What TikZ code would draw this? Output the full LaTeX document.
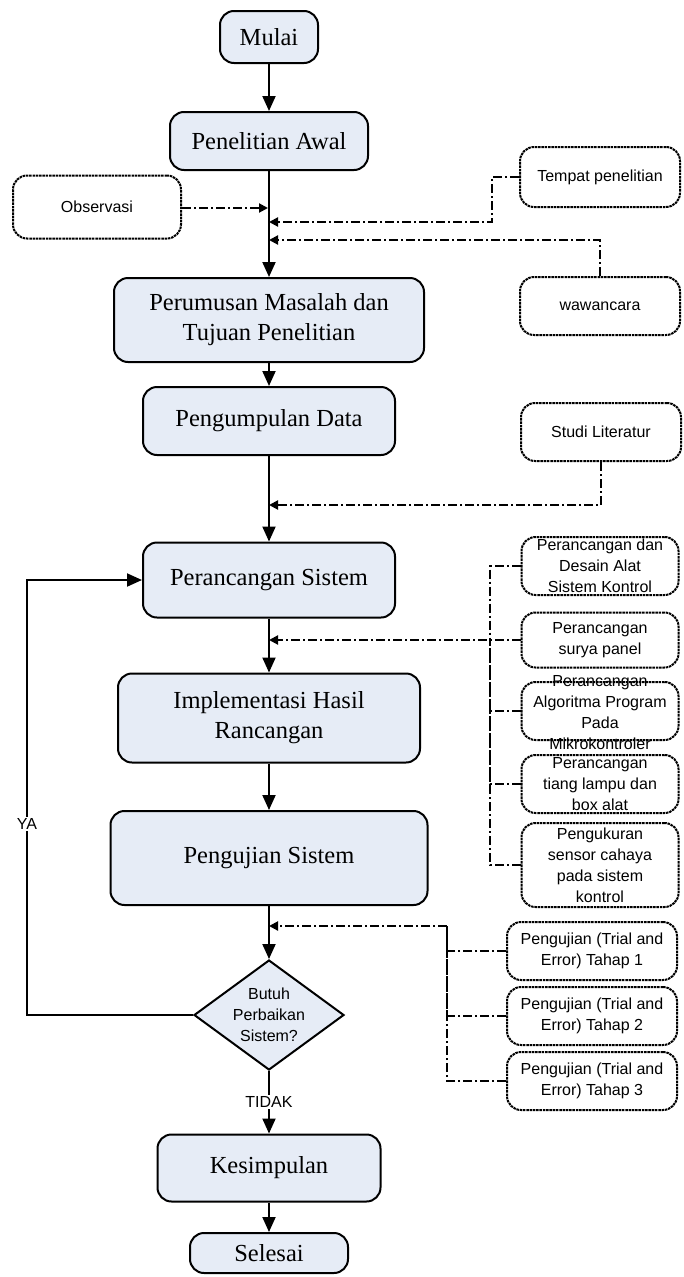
\documentclass[tikz,border=0pt]{standalone}
\usepackage{fontspec}
\setmainfont{Liberation Serif}
\setsansfont{Liberation Sans}
\usetikzlibrary{arrows.meta,shapes.geometric}
\definecolor{boxblue}{RGB}{230,236,246}
\begin{document}
\begin{tikzpicture}[x=1pt,y=-1pt,
  mainbox/.style={draw, line width=2pt, rounded corners=14pt, fill=boxblue, align=center, font=\fontsize{24.5}{30}\selectfont, inner sep=0pt},
  sidebox/.style={draw, line width=2pt, dash pattern=on 2.5pt off 0.8pt, rounded corners=14pt, align=center, font=\sffamily\fontsize{16}{21}\selectfont, inner sep=0pt, minimum width=157pt},
  sidetext/.style={align=center, font=\sffamily\fontsize{16}{21}\selectfont, inner sep=0pt},
  flow/.style={line width=2pt, -{Triangle[length=15pt,width=13pt]}},
  feed/.style={line width=2pt, dash pattern=on 9pt off 3pt on 2pt off 3pt, -{Triangle[length=9pt,width=9pt]}},
  feedline/.style={line width=2pt, dash pattern=on 9pt off 3pt on 2pt off 3pt},
  lbl/.style={font=\sffamily\fontsize{16}{18}\selectfont, fill=white, inner sep=1.5pt}]
\useasboundingbox (0,0) rectangle (683,1277);

% main column
\node[mainbox, minimum width=98pt, minimum height=52pt] (mulai) at (269,37) {Mulai};
\node[mainbox, minimum width=198pt, minimum height=58pt] (awal) at (269,141) {Penelitian Awal};
\node[mainbox, minimum width=310pt, minimum height=84pt] (perumusan) at (269,320) {Perumusan Masalah dan\\Tujuan Penelitian};
\node[mainbox, minimum width=252pt, minimum height=68pt] (pengumpulan) at (269,421) {Pengumpulan Data};
\node[mainbox, minimum width=252pt, minimum height=75pt] (perancangan) at (269,580) {Perancangan Sistem};
\node[mainbox, minimum width=302pt, minimum height=89pt] (impl) at (269,718) {Implementasi Hasil\\Rancangan};
\node[mainbox, minimum width=317pt, minimum height=94pt] (pengujian) at (269,858) {Pengujian Sistem};
\node[diamond, draw, line width=2pt, fill=boxblue, minimum width=150pt, minimum height=110pt, inner sep=0pt] (dec) at (269,1015) {};
\node[sidetext] (dect) at (dec) {Butuh\\Perbaikan\\Sistem?};
\node[mainbox, minimum width=223pt, minimum height=67pt] (kesimpulan) at (269,1168) {Kesimpulan};
\node[mainbox, minimum width=158pt, minimum height=40pt] (selesai) at (269,1253) {Selesai};

% side boxes
\node[sidebox, minimum width=168pt, minimum height=63pt] (obs) at (97,207) {Observasi};
\node[sidebox, minimum width=160pt, minimum height=60pt] (tempat) at (600,177) {Tempat penelitian};
\node[sidebox, minimum width=160pt, minimum height=58pt] (waw) at (600,306) {wawancara};
\node[sidebox, minimum width=160pt, minimum height=58pt] (studi) at (601,432) {Studi Literatur};

\node[sidebox, minimum height=58pt] (r1) at (600,566) {Perancangan dan\\Desain Alat\\Sistem Kontrol};
\node[sidebox, minimum height=55pt] (r2) at (600,640) {Perancangan\\surya panel};
\node[sidebox, minimum height=58pt] (r3) at (600,711) {};
\node[sidetext] (r3t) at (600,713) {Perancangan\\Algoritma Program\\Pada\\Mikrokontroler};
\node[sidebox, minimum height=58pt] (r4) at (600,784) {Perancangan\\tiang lampu dan\\box alat};
\node[sidebox, minimum height=84pt] (r5) at (600,865) {Pengukuran\\sensor cahaya\\pada sistem\\kontrol};

\node[sidebox, minimum width=170pt, minimum height=58pt] (t1) at (592,951) {Pengujian (Trial and\\Error) Tahap 1};
\node[sidebox, minimum width=170pt, minimum height=58pt] (t2) at (592,1016) {Pengujian (Trial and\\Error) Tahap 2};
\node[sidebox, minimum width=170pt, minimum height=58pt] (t3) at (592,1081) {Pengujian (Trial and\\Error) Tahap 3};

% main flow
\draw[flow] (mulai) -- (awal);
\draw[flow] (awal) -- (perumusan);
\draw[flow] (perumusan) -- (pengumpulan);
\draw[flow] (pengumpulan) -- (perancangan);
\draw[flow] (perancangan) -- (impl);
\draw[flow] (impl) -- (pengujian);
\draw[flow] (pengujian) -- (dec);
\draw[flow] (dec) -- node[lbl]{TIDAK} (kesimpulan);
\draw[flow] (kesimpulan) -- (selesai);
\coordinate (ya) at (27,1015);
\draw[flow] (dec.west) -- (ya) -- node[lbl,pos=0.44]{YA} (ya |- perancangan.west) -- (perancangan.west);

% feeds
\coordinate (ok) at (268,208);
\draw[feed] (obs.east |- ok) -- (ok);
\coordinate (tk) at (492,222);
\draw[feed] (tempat.west) -| (tk) -- (tk -| awal.south);
\coordinate (wk) at (269,240);
\draw[feed] (waw.north) |- (wk);
\coordinate (sk) at (269,505);
\draw[feed] (studi.south) |- (sk);

\coordinate (pk) at (269,640);
\coordinate (pv) at (490,640);
\draw[feedline] (r1.west) -| (pv);
\draw[feedline] (r3.west) -| (pv);
\draw[feedline] (r4.west) -| (pv);
\draw[feedline] (r5.west) -| (pv);
\draw[feed] (r2.west) -- (pk);

\coordinate (qk) at (269,926);
\coordinate (qv) at (447,926);
\draw[feedline] (t1.west) -| (qv);
\draw[feedline] (t2.west) -| (qv);
\draw[feedline] (t3.west) -| (qv);
\draw[feed] (qv) -- (qk);
\end{tikzpicture}
\end{document}
